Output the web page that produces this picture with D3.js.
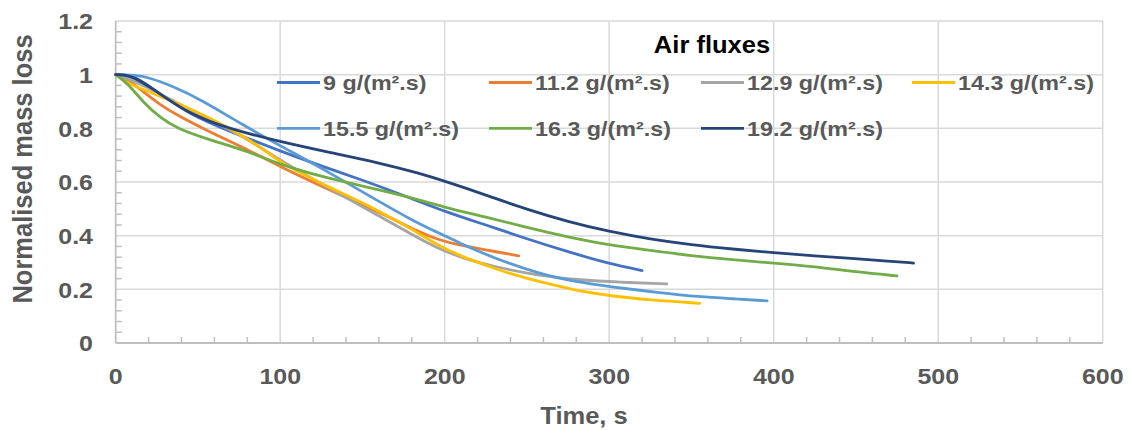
<!DOCTYPE html>
<html>
<head>
<meta charset="utf-8">
<script src="https://cdn.jsdelivr.net/npm/d3@7"></script>
<style>
  body { margin: 0; background: #fff; }
  svg { display: block; font-family: "Liberation Sans", Arial, sans-serif; }
</style>
</head>
<body>
<svg id="chart" width="1130" height="430"></svg>
<script>
// series: [time s, normalised mass]
const series9 = [[0,1],[10,1],[21,0.955],[45,0.85],[70,0.787],[100,0.715],[125,0.66],[150,0.607],[175,0.55],[200,0.49],[225,0.44],[250,0.388],[275,0.34],[300,0.295],[320,0.27]];
const series11_2 = [[0,1],[9,0.975],[17,0.935],[27,0.888],[37,0.85],[57,0.787],[78,0.728],[100,0.657],[130,0.57],[161,0.485],[185,0.412],[197,0.383],[209,0.364],[225,0.347],[245,0.325]];
const series12_9 = [[0,1],[10,0.98],[27,0.93],[57,0.83],[78,0.77],[100,0.68],[130,0.575],[161,0.47],[180,0.405],[195,0.355],[210,0.318],[228,0.287],[258,0.25],[280,0.236],[307,0.226],[335,0.22]];
const series14_3 = [[0,1],[5,0.975],[17,0.944],[37,0.895],[57,0.84],[78,0.77],[90,0.72],[100,0.675],[115,0.625],[130,0.58],[161,0.49],[180,0.425],[197,0.36],[209,0.325],[238,0.26],[258,0.228],[278,0.198],[300,0.176],[325,0.16],[355,0.148]];
const series15_5 = [[0,1],[12,0.998],[20,0.99],[35,0.956],[51,0.91],[78,0.81],[100,0.735],[130,0.635],[161,0.524],[180,0.458],[197,0.408],[209,0.373],[228,0.321],[258,0.256],[280,0.228],[300,0.21],[330,0.188],[355,0.172],[375,0.165],[396,0.157]];
const series16_3 = [[0,1],[7,0.97],[17,0.895],[27,0.84],[37,0.8],[57,0.757],[78,0.72],[100,0.665],[125,0.62],[150,0.585],[175,0.55],[200,0.505],[225,0.47],[250,0.43],[275,0.395],[300,0.365],[325,0.345],[350,0.325],[375,0.31],[400,0.298],[425,0.285],[450,0.265],[475,0.25]];
const series19_2 = [[0,1],[8,1],[21,0.955],[45,0.85],[70,0.797],[100,0.75],[130,0.71],[160,0.672],[185,0.632],[200,0.603],[225,0.552],[250,0.497],[275,0.452],[300,0.415],[325,0.387],[350,0.366],[375,0.35],[400,0.336],[425,0.325],[450,0.314],[470,0.305],[485,0.298]];

const seriesNames = ["9 g/(m².s)", "11.2 g/(m².s)", "12.9 g/(m².s)", "14.3 g/(m².s)", "15.5 g/(m².s)", "16.3 g/(m².s)", "19.2 g/(m².s)"];
const seriesColors = ["#4472C4", "#ED7D31", "#A5A5A5", "#FFC000", "#5B9BD5", "#70AD47", "#264478"];
const xTicks = [0, 100, 200, 300, 400, 500, 600];
const yTicks = [0, 0.2, 0.4, 0.6, 0.8, 1, 1.2];

const allSeries = [series9, series11_2, series12_9, series14_3, series15_5, series16_3, series19_2];

const svg = d3.select("#chart");
const x = d3.scaleLinear().domain([0, 600]).range([115.7, 1102.7]);
const y = d3.scaleLinear().domain([0, 1.2]).range([343, 21]);
const stretch = 1.11; // text in the original is a bit wider than Arial

// grid
svg.append("g")
    .selectAll("line")
    .data(xTicks.slice(1))
    .join("line")
    .attr("x1", d => x(d)).attr("x2", d => x(d))
    .attr("y1", y(0)).attr("y2", y(1.2))
    .attr("stroke", "#d9d9d9").attr("stroke-width", 1.5);
svg.append("g")
    .selectAll("line")
    .data(yTicks.slice(1))
    .join("line")
    .attr("x1", x(0)).attr("x2", x(600))
    .attr("y1", d => y(d)).attr("y2", d => y(d))
    .attr("stroke", "#d9d9d9").attr("stroke-width", 1.5);

// minor ticks (inside)
const xMinor = d3.range(0, 601, 20).filter(d => d % 100 !== 0);
const yMinor = d3.range(0, 31).map(i => i * 0.04).filter((d, i) => i % 5 !== 0);
svg.append("g")
    .selectAll("line")
    .data(xMinor)
    .join("line")
    .attr("x1", d => x(d)).attr("x2", d => x(d))
    .attr("y1", y(0)).attr("y2", y(0) - 6)
    .attr("stroke", "#bfbfbf").attr("stroke-width", 1.5);
svg.append("g")
    .selectAll("line")
    .data(yMinor)
    .join("line")
    .attr("x1", x(0)).attr("x2", x(0) + 6)
    .attr("y1", d => y(d)).attr("y2", d => y(d))
    .attr("stroke", "#bfbfbf").attr("stroke-width", 1.5);

// axis lines
svg.append("line")
    .attr("x1", x(0)).attr("x2", x(0)).attr("y1", y(0)).attr("y2", y(1.2))
    .attr("stroke", "#bfbfbf").attr("stroke-width", 1.8);
svg.append("line")
    .attr("x1", x(0)).attr("x2", x(600)).attr("y1", y(0)).attr("y2", y(0))
    .attr("stroke", "#bfbfbf").attr("stroke-width", 1.8);

// tick labels
svg.append("g")
    .selectAll("text")
    .data(xTicks)
    .join("text")
    .attr("transform", d => `translate(${x(d)},384) scale(${stretch},1)`)
    .attr("text-anchor", "middle")
    .attr("font-size", 22.5).attr("font-weight", "bold").attr("fill", "#595959")
    .text(d => d);
svg.append("g")
    .selectAll("text")
    .data(yTicks)
    .join("text")
    .attr("transform", d => `translate(93,${y(d) + 8.2}) scale(${stretch},1)`)
    .attr("text-anchor", "end")
    .attr("font-size", 22.5).attr("font-weight", "bold").attr("fill", "#595959")
    .text(d => d);

// axis titles
svg.append("text")
    .attr("transform", `translate(584,424) scale(${stretch},1)`)
    .attr("text-anchor", "middle")
    .attr("font-size", 23).attr("font-weight", "bold").attr("fill", "#595959")
    .text("Time, s");
svg.append("text")
    .attr("transform", `translate(32,169) scale(${stretch},1) rotate(-90)`)
    .attr("text-anchor", "middle")
    .attr("font-size", 25.5).attr("font-weight", "bold").attr("fill", "#595959")
    .text("Normalised mass loss");

// lines
const line = d3.line()
    .x(d => x(d[0]))
    .y(d => y(d[1]))
    .curve(d3.curveBasis);

svg.append("g")
    .selectAll("path")
    .data(allSeries)
    .join("path")
    .attr("d", d => line(d))
    .attr("fill", "none")
    .attr("stroke", (d, i) => seriesColors[i])
    .attr("stroke-width", 2.8)
    .attr("stroke-linecap", "round");

// legend
svg.append("text")
    .attr("transform", `translate(712,53) scale(${stretch},1)`)
    .attr("text-anchor", "middle")
    .attr("font-size", 23).attr("font-weight", "bold").attr("fill", "#000")
    .text("Air fluxes");

const legendCols = [277, 489, 701, 912];
const legendRows = [82.5, 128.3];
const legend = svg.append("g")
    .selectAll("g")
    .data(seriesNames)
    .join("g")
    .attr("transform", (d, i) => `translate(${legendCols[i % 4]},${legendRows[Math.floor(i / 4)]})`);
legend.append("line")
    .attr("x1", 0).attr("x2", 43).attr("y1", 0).attr("y2", 0)
    .attr("stroke", (d, i) => seriesColors[i]).attr("stroke-width", 2.8);
legend.append("text")
    .attr("transform", `translate(46,7.5) scale(${stretch},1)`)
    .attr("font-size", 21).attr("font-weight", "bold").attr("fill", "#595959")
    .text(d => d);
</script>
</body>
</html>
